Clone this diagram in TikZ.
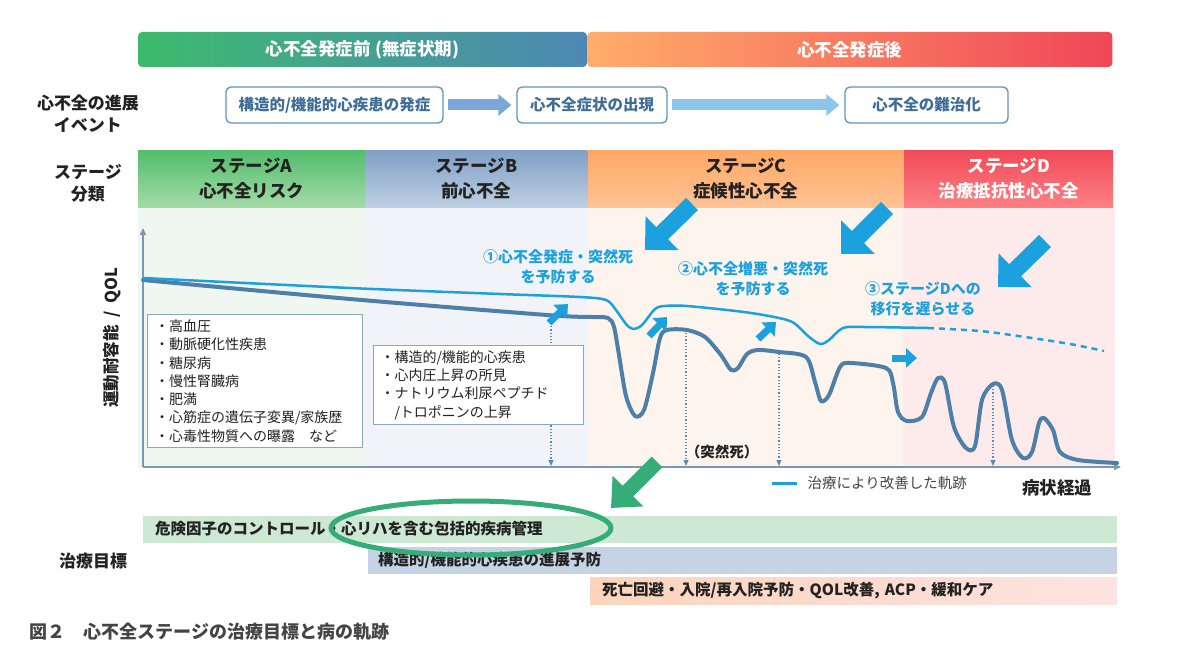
\documentclass[tikz,border=0pt]{standalone}
\usepackage{fontspec}
\setmainfont{Noto Sans CJK JP}
\usetikzlibrary{arrows.meta,positioning,shapes}

\definecolor{preL}{HTML}{3DBB6C}
\definecolor{preR}{HTML}{4D88B5}
\definecolor{postL}{HTML}{FFAD6A}
\definecolor{postR}{HTML}{F04658}
\definecolor{evline}{HTML}{5F91C0}
\definecolor{evtext}{HTML}{3F6D96}
\definecolor{arrA}{HTML}{7BA6DA}
\definecolor{arrB}{HTML}{8CC6EA}
\definecolor{stAt}{HTML}{52BD6D}
\definecolor{stAb}{HTML}{A5DBA8}
\definecolor{stBt}{HTML}{7F9FC4}
\definecolor{stBb}{HTML}{C0D0E4}
\definecolor{stCt}{HTML}{FFA766}
\definecolor{stCb}{HTML}{FFC394}
\definecolor{stDt}{HTML}{EF4A57}
\definecolor{stDb}{HTML}{FF8084}
\definecolor{panA}{HTML}{EFF7F0}
\definecolor{panB}{HTML}{F2F3F8}
\definecolor{panC}{HTML}{FDF4EE}
\definecolor{panD}{HTML}{FDEBEB}
\definecolor{boxline}{HTML}{8AA7C2}
\definecolor{axisc}{HTML}{7B98B0}
\definecolor{dropc}{HTML}{5F88AA}
\definecolor{coursec}{HTML}{4D7FA8}
\definecolor{cyanline}{HTML}{1BA1DE}
\definecolor{ringc}{HTML}{36AC78}
\definecolor{goalA}{HTML}{CDE8D3}
\definecolor{goalB}{HTML}{C5D3E4}
\definecolor{goalCl}{HTML}{FCD4BB}
\definecolor{goalCr}{HTML}{FDE3E1}
\definecolor{textc}{HTML}{222222}
\definecolor{legendc}{HTML}{444444}

\begin{document}
\begin{tikzpicture}[x=1pt, y=-1pt,
   bar/.style = {rectangle, rounded corners=4pt, minimum height=35pt, text=white,
                 font=\fontsize{17.5}{20}\selectfont\bfseries},
   evbox/.style = {rectangle, rounded corners=5pt, draw=evline, line width=1.3pt, fill=white,
                   text=evtext, minimum height=36pt, font=\fontsize{15.5}{18}\selectfont\bfseries},
   evarrow/.style = {line width=11pt, -{Triangle[length=13pt, width=21pt]}, shorten <=4pt, shorten >=5pt},
   stage/.style = {rectangle, minimum height=58pt, align=center, text=textc,
                   font=\fontsize{17.5}{25}\selectfont\bfseries},
   rowlabel/.style = {align=center, text=textc, font=\fontsize{17}{22}\selectfont\bfseries},
   listbox/.style = {rectangle, draw=boxline, line width=1pt, fill=white, align=left, anchor=north west,
                     text=textc, font=\fontsize{14}{18.3}\selectfont},
   note/.style = {align=center, text=cyanline, font=\fontsize{15}{20}\selectfont\bfseries},
   goal/.style = {rectangle, anchor=west, minimum height=27pt, align=left, inner xsep=12pt,
                  text=textc, font=\fontsize{15.5}{18}\selectfont\bfseries},
   axisline/.style = {draw=axisc, line width=1.4pt, -{Triangle[length=7pt, width=6pt]}},
   drop/.style = {draw=dropc, line width=1.2pt, dotted, -{Triangle[length=6pt, width=5pt]}},
   course/.style = {draw=coursec, line width=4pt, line cap=round, line join=round},
   treated/.style = {draw=cyanline, line width=2.5pt, line cap=round, line join=round},
   bigarrow/.style = {draw=cyanline, line width=17pt, -{Triangle[length=24pt, width=46pt]}},
   smallarrow/.style = {draw=cyanline, line width=7pt, -{Triangle[length=11pt, width=19pt]}}
]
\useasboundingbox (0,0) rectangle (1179,661);

% header bars
\node (pre)  [bar, left color=preL, right color=preR, minimum width=449pt] at (362.5,49.5) {心不全発症前 (無症状期)};
\node (post) [bar, left color=postL, right color=postR, minimum width=525pt, right=0pt of pre] {心不全発症後};

% events
\node (evrow) [rowlabel] at (88,114) {心不全の進展\\イベント};
\node (ev1) [evbox, minimum width=217pt] at (334.5,105) {構造的/機能的心疾患の発症};
\node (ev2) [evbox, minimum width=150pt] at (592,105)   {心不全症状の出現};
\node (ev3) [evbox, minimum width=163pt] at (926.5,105) {心不全の難治化};
\draw [evarrow, draw=arrA] (ev1) -- (ev2);
\draw [evarrow, draw=arrB] (ev2) -- (ev3);

% stages
\node (strow) [rowlabel] at (88,183) {ステージ\\分類};
\node (stA) [stage, top color=stAt, bottom color=stAb, minimum width=227pt] at (251.5,179) {ステージA\\心不全リスク};
\node (stB) [stage, top color=stBt, bottom color=stBb, minimum width=222pt, right=0pt of stA] {ステージB\\前心不全};
\node (stC) [stage, top color=stCt, bottom color=stCb, minimum width=316pt, right=0pt of stB] {ステージC\\症候性心不全};
\node (stD) [stage, top color=stDt, bottom color=stDb, minimum width=209pt, right=0pt of stC, text=white] {ステージD\\治療抵抗性心不全};

\fill [panA] (138,208) rectangle (365,467);
\fill [panB] (365,208) rectangle (587,467);
\fill [panC] (587,208) rectangle (903,467);
\fill [panD] (903,208) rectangle (1115,467);

% axes
\draw [axisline] (143,467) -- (143,228);
\draw [axisline] (143,467) -- (1121,467);
\node (ylab) [rotate=90, text=textc, font=\fontsize{16.5}{18}\selectfont\bfseries] at (112,338) {運動耐容能 \ / \ QOL};

% course of the disease
\draw [course] plot [smooth, tension=0.5] coordinates {(143,280) (350,299) (547,315) (592,317) (608,318)
   (614,327) (619,355) (626,396) (635,416) (644,410) (653,373) (660,338) (667,330) (687,330) (705,337)
   (721,355) (731,370) (738,368) (747,354) (758,350) (779,352) (806,357) (815,382) (821,401) (829,395)
   (840,367) (850,363) (886,368) (893,383) (898,412) (907,421) (922,417) (931,393) (938,378) (945,383)
   (954,427) (966,448) (975,446) (982,400) (993,384) (1002,390) (1012,440) (1023,458) (1032,452)
   (1039,423) (1044,418) (1053,430) (1060,452) (1078,460) (1117,463)};
\draw [treated] plot [smooth, tension=0.5] coordinates {(143,278) (350,288) (500,294) (580,297) (606,300)
   (616,310) (626,324) (633,329) (642,325) (655,309) (665,306) (687,306) (744,312) (779,318) (794,323)
   (808,336) (820,344) (829,340) (843,328) (865,327) (928,328)};
\draw [treated, line cap=butt, dash pattern=on 6pt off 5pt] plot [smooth, tension=0.5] coordinates {(928,328)
   (980,331) (1025,337) (1070,344) (1104,351)};

\draw [drop] (551,323) -- (551,466);
\draw [drop] (686,333) -- (686,466);
\draw [drop] (779,354) -- (779,466);
\draw [drop] (993,386) -- (993,466);

% risk lists
\node (riskA) [listbox, text width=200pt, inner xsep=7.5pt, minimum height=133pt] at (147,314)
   {・高血圧\\・動脈硬化性疾患\\・糖尿病\\・慢性腎臓病\\・肥満\\・心筋症の遺伝子変異/家族歴\\・心毒性物質への曝露　など};
\node (riskB) [listbox, text width=196pt, inner xsep=7pt, minimum height=79pt] at (373,345)
   {・構造的/機能的心疾患\\・心内圧上昇の所見\\・ナトリウム利尿ペプチド\\\phantom{・}/トロポニンの上昇};

% treatment targets
\draw [bigarrow] (692,204) -- (645,250);
\draw [bigarrow] (887,208) -- (841,254);
\draw [bigarrow] (1045,241) -- (998,287);
\draw [smallarrow] (549,323) -- (568,304);
\draw [smallarrow] (649,336) -- (667,317);
\draw [smallarrow] (758,339) -- (776,322);
\draw [smallarrow] (892,358) -- (917,358);
\node (note1) [note] at (558,267) {①心不全発症・突然死\\を予防する};
\node (note2) [note] at (753,279) {②心不全増悪・突然死\\を予防する};
\node (note3) [note] at (923,299) {③ステージDへの\\移行を遅らせる};
\node (sudden) [text=textc, font=\fontsize{14.5}{16}\selectfont\bfseries] at (722,452) {（突然死）};

% legend
\draw [treated, line width=3pt, line cap=butt] (772,483) -- (797,483);
\node (legend) [anchor=west, text=legendc, font=\fontsize{14.5}{16}\selectfont] at (804,483) {治療により改善した軌跡};
\node (xlab) [text=textc, font=\fontsize{17.5}{20}\selectfont\bfseries] at (1057,488) {病状経過};

% goals
\node (goalrow) [rowlabel] at (93,561) {治療目標};
\node (g1) [goal, fill=goalA, text width=950pt] at (143,529) {危険因子のコントロール・心リハを含む包括的疾病管理};
\node (g2) [goal, fill=goalB, text width=729pt, inner xsep=10pt] at (368,560) {構造的/機能的心疾患の進展予防};
\node (g3) [goal, left color=goalCl, right color=goalCr, text width=503pt] at (590,591) {死亡回避・入院/再入院予防・QOL改善, ACP・緩和ケア};
\draw [ringc, line width=5pt] (471,528) ellipse [x radius=140pt, y radius=27pt];
\draw [draw=ringc, line width=15pt, -{Triangle[length=24pt, width=42pt]}] (657,462) -- (611,508);

\node (caption) [anchor=west, text=legendc, font=\fontsize{18}{20}\selectfont\bfseries] at (26,632) {図２　心不全ステージの治療目標と病の軌跡};
\end{tikzpicture}
\end{document}
